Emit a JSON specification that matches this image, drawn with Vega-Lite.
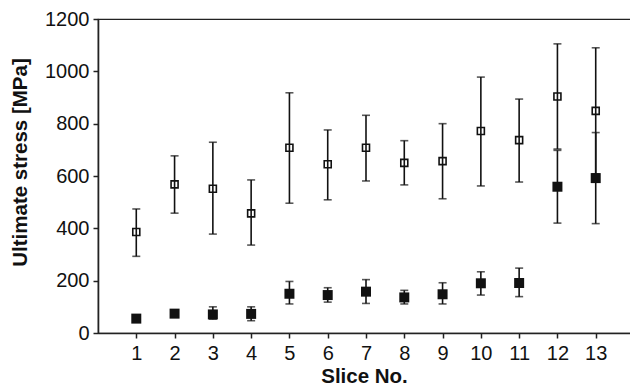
{
  "$schema": "https://vega.github.io/schema/vega-lite/v6.json",
  "autosize": {"type": "none"},
  "padding": {"left": 98, "top": 19, "right": 0, "bottom": 56},
  "width": 536,
  "height": 314,
  "background": "white",
  "config": {
    "view": {"stroke": "#222", "strokeWidth": 1.2},
    "font": "Liberation Sans",
    "axis": {
      "grid": false,
      "domainColor": "#222",
      "domainWidth": 1.6,
      "tickColor": "#222",
      "tickWidth": 1.5,
      "tickSize": 5,
      "labelFont": "Liberation Sans",
      "labelFontSize": 20,
      "labelColor": "#111",
      "titleFont": "Liberation Sans",
      "titleFontSize": 20.5,
      "titleFontWeight": "bold",
      "titleColor": "#111"
    }
  },
  "data": {
    "values": [
      {"slice": 1, "series": "open", "mean": 386, "low": 293, "high": 474},
      {"slice": 2, "series": "open", "mean": 568, "low": 458, "high": 677},
      {"slice": 3, "series": "open", "mean": 551, "low": 378, "high": 729},
      {"slice": 4, "series": "open", "mean": 457, "low": 336, "high": 585},
      {"slice": 5, "series": "open", "mean": 708, "low": 496, "high": 918},
      {"slice": 6, "series": "open", "mean": 645, "low": 509, "high": 776},
      {"slice": 7, "series": "open", "mean": 708, "low": 581, "high": 832},
      {"slice": 8, "series": "open", "mean": 650, "low": 566, "high": 735},
      {"slice": 9, "series": "open", "mean": 657, "low": 513, "high": 800},
      {"slice": 10, "series": "open", "mean": 772, "low": 562, "high": 978},
      {"slice": 11, "series": "open", "mean": 737, "low": 577, "high": 894},
      {"slice": 12, "series": "open", "mean": 904, "low": 703, "high": 1105},
      {"slice": 13, "series": "open", "mean": 849, "low": 608, "high": 1090},
      {"slice": 1, "series": "filled", "mean": 55, "low": 50, "high": 60},
      {"slice": 2, "series": "filled", "mean": 74, "low": 64, "high": 84},
      {"slice": 3, "series": "filled", "mean": 71, "low": 53, "high": 100},
      {"slice": 4, "series": "filled", "mean": 73, "low": 47, "high": 100},
      {"slice": 5, "series": "filled", "mean": 150, "low": 111, "high": 197},
      {"slice": 6, "series": "filled", "mean": 145, "low": 118, "high": 173},
      {"slice": 7, "series": "filled", "mean": 158, "low": 113, "high": 204},
      {"slice": 8, "series": "filled", "mean": 136, "low": 111, "high": 163},
      {"slice": 9, "series": "filled", "mean": 148, "low": 111, "high": 192},
      {"slice": 10, "series": "filled", "mean": 190, "low": 145, "high": 234},
      {"slice": 11, "series": "filled", "mean": 191, "low": 139, "high": 248},
      {"slice": 12, "series": "filled", "mean": 559, "low": 420, "high": 698},
      {"slice": 13, "series": "filled", "mean": 592, "low": 418, "high": 766}
    ]
  },
  "encoding": {
    "x": {
      "field": "slice", "type": "quantitative",
      "scale": {"domain": [0, 14], "nice": false, "zero": false},
      "axis": {"values": [1,2,3,4,5,6,7,8,9,10,11,12,13], "format": "d", "title": "Slice No.", "labelPadding": 5, "titlePadding": 3, "titleX": 266, "labelFlush": false}
    }
  },
  "layer": [
    {
      "mark": {"type": "rule", "color": "#111", "strokeWidth": 1.6},
      "encoding": {
        "y": {
          "field": "low", "type": "quantitative",
          "scale": {"domain": [0, 1200], "nice": false},
          "axis": {"values": [0,200,400,600,800,1000,1200], "format": "d", "title": "Ultimate stress [MPa]", "labelPadding": 4, "titleX": -72, "titleY": 143, "titleBaseline": "alphabetic", "titleAlign": "center", "titleAngle": -90}
        },
        "y2": {"field": "high"}
      }
    },
    {
      "transform": [{"fold": ["low", "high"], "as": ["bound", "val"]}],
      "mark": {"type": "tick", "orient": "horizontal", "size": 8, "thickness": 1.6, "color": "#111"},
      "encoding": {
        "y": {"field": "val", "type": "quantitative"}
      }
    },
    {
      "transform": [{"filter": "datum.series === 'open'"}],
      "mark": {"type": "point", "shape": "square", "filled": false, "size": 49, "stroke": "#111", "strokeWidth": 1.6, "opacity": 1},
      "encoding": {
        "y": {"field": "mean", "type": "quantitative"}
      }
    },
    {
      "transform": [{"filter": "datum.series === 'filled'"}],
      "mark": {"type": "point", "shape": "square", "filled": true, "size": 100, "fill": "#111", "opacity": 1},
      "encoding": {
        "y": {"field": "mean", "type": "quantitative"}
      }
    }
  ]
}
